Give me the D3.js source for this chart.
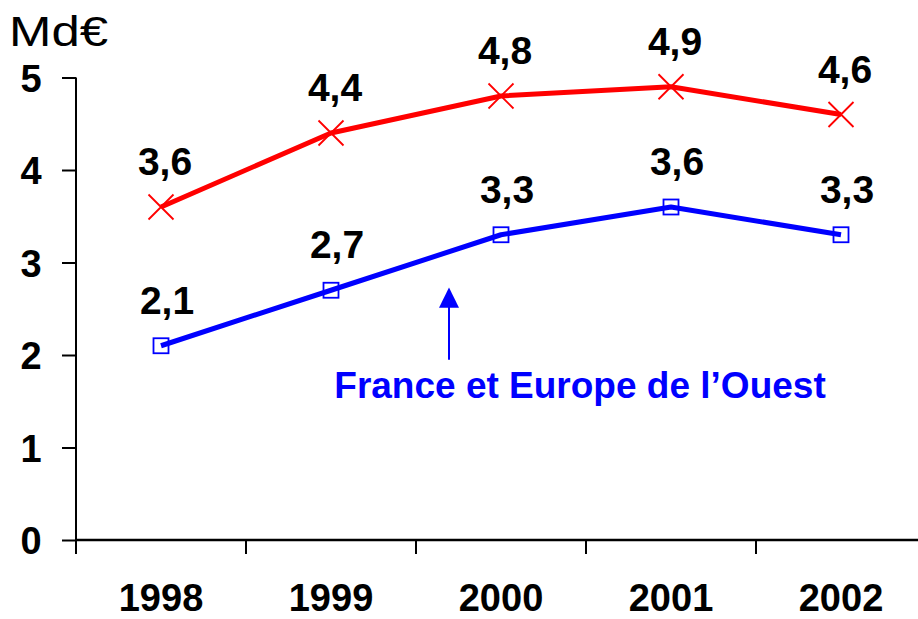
<!DOCTYPE html>
<html>
<head>
<meta charset="utf-8">
<script src="https://cdn.jsdelivr.net/npm/d3@7"></script>
<style>
  html, body { margin: 0; padding: 0; background: #fff; }
  svg { display: block; font-family: Arial, "Liberation Sans", sans-serif; }
</style>
</head>
<body>
<div id="chart"></div>
<script>
const years = ["1998", "1999", "2000", "2001", "2002"];
const totalValues = [3.6, 4.4, 4.8, 4.9, 4.6];
const europeValues = [2.1, 2.7, 3.3, 3.6, 3.3];
const yTicks = [0, 1, 2, 3, 4, 5];
const unitLabel = "Md€";
const annotationText = "France et Europe de l’Ouest";

const width = 918, height = 619;
const margin = { top: 77.5, right: -8, bottom: 79, left: 76 };
const w = width - margin.left - margin.right;
const h = height - margin.top - margin.bottom;

const svg = d3.select("#chart").append("svg")
  .attr("width", width).attr("height", height);
const g = svg.append("g").attr("transform", `translate(${margin.left},${margin.top})`);

const x = d3.scaleBand().domain(years).range([0, w]);
const y = d3.scaleLinear().domain([0, 5]).range([h, 0]);
const fmt = v => String(v).replace(".", ",");

// y axis
const yAxis = g.append("g")
  .call(d3.axisLeft(y).tickValues(yTicks).tickSize(14).tickPadding(22).tickFormat(d3.format("d")));
yAxis.select(".domain").attr("stroke", "#000").attr("stroke-width", 2).attr("d", `M0,${h}V0`);
yAxis.selectAll("line").attr("stroke", "#000").attr("stroke-width", 2);
yAxis.selectAll("text").attr("fill", "#000").style("font-size", "38px").style("font-weight", "bold")
  .attr("text-anchor", "middle").attr("x", -45).attr("dy", "0.36em");

// x axis
const xAxis = g.append("g").attr("transform", `translate(0,${h})`)
  .call(d3.axisBottom(x).tickSize(0).tickPadding(44));
xAxis.select(".domain").attr("stroke", "#000").attr("stroke-width", 2.5).attr("d", `M0,0H${w}`);
xAxis.selectAll("text").attr("fill", "#000").style("font-size", "38px").style("font-weight", "bold");
// boundary ticks between categories
g.append("g").selectAll("line")
  .data(years.concat(["end"]))
  .join("line")
  .attr("x1", (d, i) => i * x.bandwidth()).attr("x2", (d, i) => i * x.bandwidth())
  .attr("y1", h).attr("y2", h + 14)
  .attr("stroke", "#000").attr("stroke-width", 2);

// unit label
svg.append("text").attr("x", 9).attr("y", 46)
  .style("font-size", "43px").attr("fill", "#000")
  .attr("textLength", 99).attr("lengthAdjust", "spacingAndGlyphs")
  .text(unitLabel);

const cx = (d, i) => x(years[i]) + x.bandwidth() / 2;
const line = d3.line().x((d, i) => cx(d, i)).y(d => y(d));

// red series
g.append("path").datum(totalValues).attr("fill", "none")
  .attr("stroke", "#ff0000").attr("stroke-width", 5).attr("stroke-linejoin", "round")
  .attr("d", line);
const cross = 12.5;
g.append("g").selectAll("path").data(totalValues).join("path")
  .attr("d", (d, i) => {
    const px = cx(d, i), py = y(d);
    return `M${px - cross},${py - cross}L${px + cross},${py + cross}M${px - cross},${py + cross}L${px + cross},${py - cross}`;
  })
  .attr("stroke", "#ff0000").attr("stroke-width", 1.8).attr("fill", "none");

// blue series
g.append("path").datum(europeValues).attr("fill", "none")
  .attr("stroke", "#0000ff").attr("stroke-width", 5).attr("stroke-linejoin", "round")
  .attr("d", line);
const sq = 7.5;
g.append("g").selectAll("rect").data(europeValues).join("rect")
  .attr("x", (d, i) => cx(d, i) - sq).attr("y", d => y(d) - sq)
  .attr("width", sq * 2).attr("height", sq * 2)
  .attr("fill", "none").attr("stroke", "#0000ff").attr("stroke-width", 1.8);

// value labels
const labelStyle = sel => sel.attr("text-anchor", "middle").attr("fill", "#000")
  .style("font-size", "39px").style("font-weight", "bold");
g.append("g").selectAll("text").data(totalValues).join("text")
  .attr("x", (d, i) => cx(d, i) + 4).attr("y", d => y(d) - 32)
  .text(fmt).call(labelStyle);
g.append("g").selectAll("text").data(europeValues).join("text")
  .attr("x", (d, i) => cx(d, i) + 6).attr("y", d => y(d) - 32)
  .text(fmt).call(labelStyle);

// annotation arrow + text
const ax = x("2000") + 33;
g.append("line").attr("x1", ax).attr("x2", ax)
  .attr("y1", y(1.95)).attr("y2", y(2.53))
  .attr("stroke", "#0000ff").attr("stroke-width", 2);
g.append("path")
  .attr("d", `M${ax},${y(2.73)}L${ax - 10},${y(2.51)}L${ax + 10},${y(2.51)}Z`)
  .attr("fill", "#0000ff");
g.append("text").attr("x", x("2001") - 6).attr("y", y(1.53))
  .attr("text-anchor", "middle").attr("fill", "#0000ff")
  .style("font-size", "37px").style("font-weight", "bold")
  .text(annotationText);
</script>
</body>
</html>
